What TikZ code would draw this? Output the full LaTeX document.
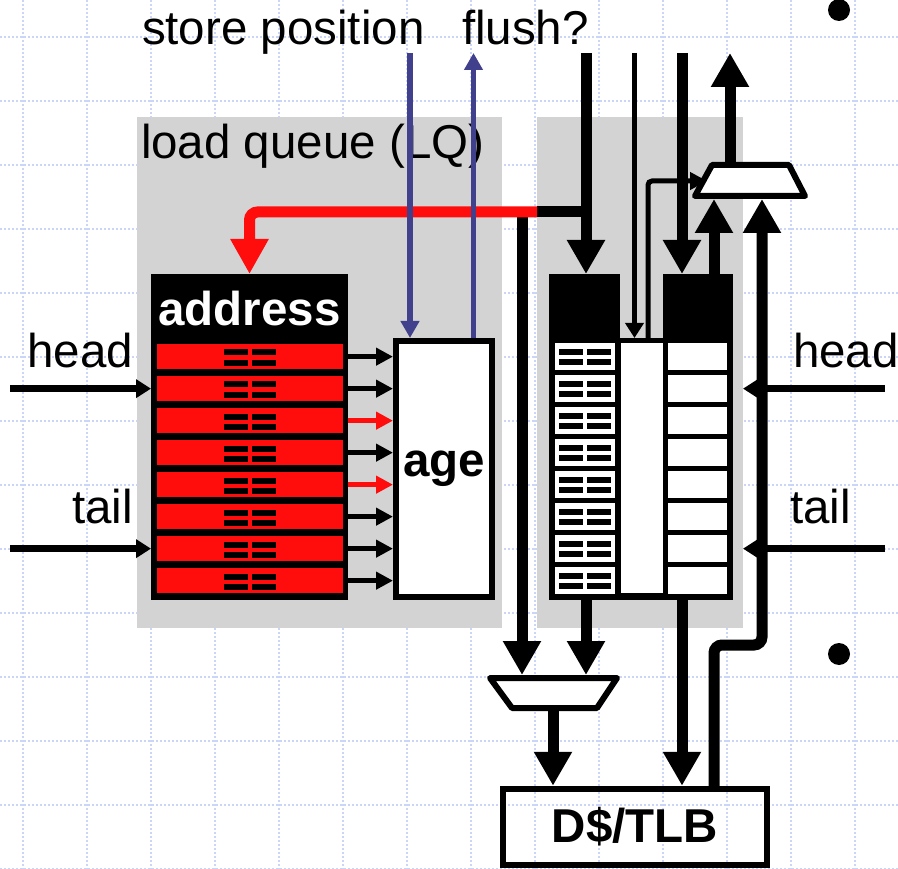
\documentclass[tikz,border=0pt]{standalone}
\usepackage{fontspec}
\setmainfont{Liberation Sans}
\usetikzlibrary{arrows.meta}
\definecolor{LsqRed}{HTML}{FF0D0D}
\definecolor{LsqPanel}{HTML}{D3D3D3}
\definecolor{LsqBlue}{HTML}{40408C}
\definecolor{LsqGrid}{HTML}{CAD5F7}
% four little bars inside one queue entry: #1 = x centre, #2 = y top
\newcommand{\lqbars}[2]{%
  \fill (#1-26,#2+5.5) rectangle (#1-2,#2+11.5);
  \fill (#1+2,#2+5.5) rectangle (#1+26,#2+11.5);
  \fill (#1-26,#2+16) rectangle (#1-2,#2+22);
  \fill (#1+2,#2+16) rectangle (#1+26,#2+22);
}

\begin{document}
\begin{tikzpicture}[x=1pt,y=-1pt,
    every node/.style={inner sep=0pt, outer sep=0pt, font=\fontsize{47.5}{56}\selectfont},
    gridline/.style={LsqGrid, line width=1.5pt, dash pattern=on 2pt off 2pt},
    panel/.style={fill=LsqPanel},
    blk/.style={fill=black},
    lqrow/.style={fill=LsqRed, minimum width=186pt, minimum height=25.3pt},
    cell/.style={fill=white, minimum height=26.7pt},
    boxed/.style={draw, line width=6pt, outer sep=3pt, font=\fontsize{47.5}{56}\selectfont\bfseries},
    muxbox/.style={draw, line width=6pt, line join=round, fill=white},
    sigarr/.style={line width=5pt, -{Triangle[length=17pt,width=17pt]}},
    ptrarr/.style={line width=6.5pt, -{Triangle[length=15pt,width=18pt]}},
    busarr/.style={line width=11pt, -{Triangle[length=34pt,width=36pt]}},
    redarr/.style={LsqRed, line width=11pt, rounded corners=8pt, -{Triangle[length=35pt,width=36pt]}},
    bluearr/.style={LsqBlue, line width=5.5pt, -{Triangle[length=17pt,width=18pt]}}]
  \useasboundingbox (0,0) rectangle (898,869);
  \foreach \gx in {23,87,...,855} \draw[gridline] (\gx,0) -- (\gx,869);
  \foreach \gy in {37,101,...,869} \draw[gridline] (0,\gy) -- (898,\gy);

  \node[panel, minimum width=365pt, minimum height=511pt] (lqpanel) at (319.5,372.5) {};
  \node[panel, minimum width=206pt, minimum height=511pt] (sqpanel) at (640,372.5) {};
  \node[anchor=base west] (sptxt) at (142,45) {store position};
  \node[anchor=base west] (fltxt) at (462,45) {flush?};
  \node[anchor=base west] (lqtxt) at (141,159) {load queue (LQ)};

  % load queue
  \node[blk, minimum width=197pt, minimum height=326pt] (addr) at (249.5,437) {};
  \node[text=white, font=\fontsize{47.5}{56}\selectfont\bfseries] (addrtxt) at (249.5,309) {address};
  \foreach \i in {0,...,7} {
    \node[lqrow] (lq\i) at (249.5,356.65+32*\i) {};
    \lqbars{249.5}{344+32*\i}
  }
  \node[boxed, fill=white, minimum width=96pt, minimum height=256pt] (age) at (444,469) {age};
  \foreach \i/\c in {0/black,1/black,2/LsqRed,3/black,4/LsqRed,5/black,6/black,7/black}
    \draw[sigarr, \c] (lq\i.east -| addr.east) -- (lq\i.east -| age.west);

  % store queue
  \node[blk, minimum width=71pt, minimum height=64pt] (sqaddr) at (584.5,306) {};
  \node[blk, minimum width=70pt, minimum height=64pt] (sqdata) at (698,306) {};
  \node[blk, minimum width=184pt, minimum height=262pt] (sqbody) at (641,469) {};
  \node[cell, minimum width=42pt, minimum height=250pt] (sqage) at (642,468) {};
  \foreach \i in {0,...,7} {
    \node[cell, minimum width=60pt] (sqa\i) at (585,356.65+32*\i) {};
    \node[cell, minimum width=59pt] (sqd\i) at (697.5,356.65+32*\i) {};
    \lqbars{585}{343.3+32*\i}
  }

  \node[boxed, line width=6.5pt, outer sep=3.25pt, minimum width=264pt, minimum height=76pt] (dtlb) at (635,827) {D\$/TLB};

  % muxes
  \draw[muxbox] (712,165) -- (789,165) -- (805,196) -- (695,196) -- cycle;
  \draw[muxbox] (490,678) -- (617,678) -- (597,708) -- (512,708) -- cycle;

  \coordinate (sqin) at (586,53);
  \coordinate (fork) at (586,212);
  \coordinate (lqedge) at (537,212);
  \coordinate (lqout) at (522,212);
  \coordinate (datain) at (682,53);
  \coordinate (umuxout) at (730,162);
  \coordinate (umuxtop) at (730,53);
  \coordinate (agein) at (634.5,53);
  \coordinate (ageout) at (648,181);
  \coordinate (umuxsel) at (707,181);
  \coordinate (umuxa) at (714,199);
  \coordinate (umuxb) at (762,199);
  \coordinate (dret) at (714,645);
  \coordinate (lmuxa) at (522,675);
  \coordinate (lmuxb) at (586,675);
  \coordinate (lmuxout) at (553,708);
  \coordinate (stin) at (410,53);
  \coordinate (flout) at (473.5,53);

  \draw[busarr] (sqin) -- (sqin |- sqaddr.north);
  \draw[line width=11pt] (fork) -- (lqedge);
  \draw[busarr] (lqout) -- (lmuxa);
  \draw[redarr] (lqedge) -- (lqedge -| addr.north) -- (addr.north);
  \draw[busarr] (datain) -- (datain |- sqdata.north);
  \draw[busarr] (umuxa |- sqdata.north) -- (umuxa);
  \draw[busarr] (umuxout) -- (umuxtop);
  \draw[busarr, rounded corners=8pt] (dret |- dtlb.north) -- (dret) -- (dret -| umuxb) -- (umuxb);
  \draw[busarr] (lmuxb |- sqbody.south) -- (lmuxb);
  \draw[busarr] (datain |- sqbody.south) -- (datain |- dtlb.north);
  \draw[busarr] (lmuxout) -- (lmuxout |- dtlb.north);
  \draw[sigarr, -{Triangle[length=15pt,width=18pt]}] (agein) -- (agein |- sqbody.north);
  \draw[sigarr, rounded corners=4pt] (ageout |- sqbody.north) -- (ageout) -- (umuxsel);

  \draw[bluearr] (stin) -- (stin |- age.north);
  \draw[bluearr] (flout |- age.north) -- (flout);

  % head / tail pointers
  \node[anchor=base east] (lhead) at (133,367) {head};
  \node[anchor=base east] (ltail) at (133,523) {tail};
  \node[anchor=base west] (rhead) at (793,367) {head};
  \node[anchor=base west] (rtail) at (790,523) {tail};
  \coordinate (lheadsrc) at (10,388.65);
  \coordinate (ltailsrc) at (10,548.65);
  \coordinate (rheadsrc) at (885,388.65);
  \coordinate (rtailsrc) at (885,548.65);
  \draw[ptrarr] (lheadsrc) -- (lheadsrc -| addr.west);
  \draw[ptrarr] (ltailsrc) -- (ltailsrc -| addr.west);
  \draw[ptrarr] (rheadsrc) -- (rheadsrc -| sqpanel.east);
  \draw[ptrarr] (rtailsrc) -- (rtailsrc -| sqpanel.east);

  \fill (839,10) circle (11pt);
  \fill (839,654) circle (11pt);
\end{tikzpicture}
\end{document}
